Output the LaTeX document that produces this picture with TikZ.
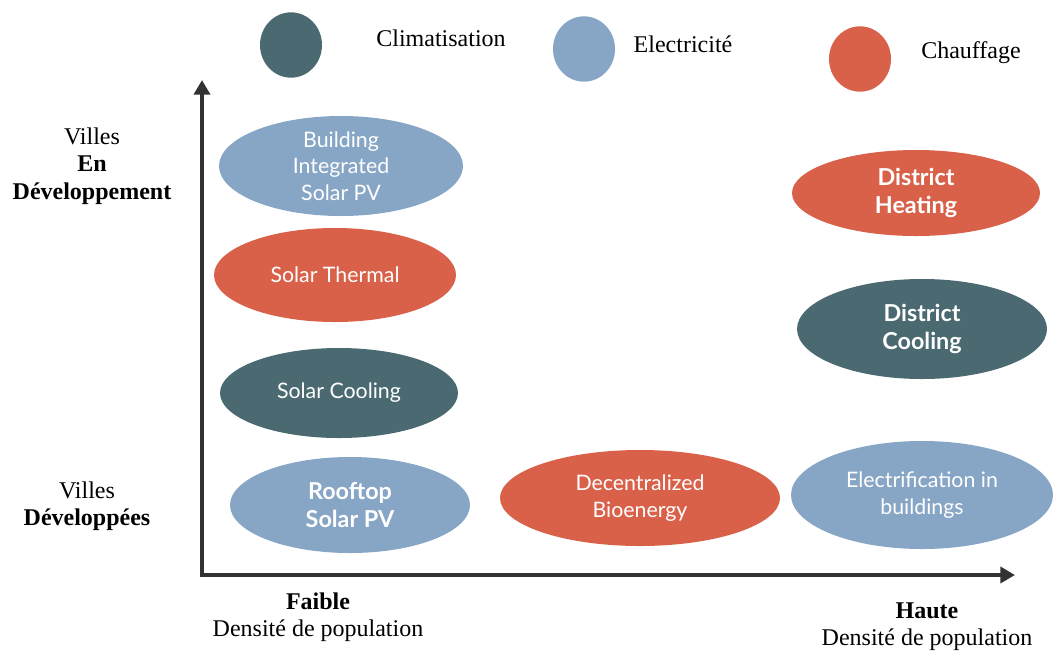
\documentclass[tikz,border=0pt]{standalone}
\usepackage{fontspec}
\setmainfont{Liberation Serif}
\newfontfamily\ellfont{Lato}
\usetikzlibrary{shapes.geometric,arrows.meta}
\definecolor{cteal}{HTML}{4A6971}
\definecolor{cblue}{HTML}{87A6C6}
\definecolor{cred}{HTML}{D9614A}
\begin{document}
\begin{tikzpicture}[x=0.75pt,y=-0.75pt,
  blob/.style={ellipse,inner sep=0pt,draw=none,text=white,align=center,
    font=\ellfont\fontsize{16}{20}\selectfont},
  boldblob/.style={blob,font=\ellfont\bfseries\fontsize{17.5}{20.5}\selectfont},
  legendblob/.style={ellipse,inner sep=0pt,draw=none,minimum width=46.5pt,minimum height=49pt},
  lbl/.style={align=center,font=\fontsize{18}{20.5}\selectfont,text=black},
  axisline/.style={line width=3.6pt,draw=black!80,line join=miter,
    {Triangle[length=11pt,width=12pt]}-{Triangle[length=11pt,width=12pt]}}]
\useasboundingbox (0,0) rectangle (1057,654);
% legend
\node[legendblob,fill=cteal] (lc) at (291,45) {};
\node[legendblob,fill=cblue] (le) at (584,49) {};
\node[legendblob,fill=cred] (lh) at (860,59) {};
\node[lbl] (tc) at (441,38) {Climatisation};
\node[lbl] (te) at (683,44) {Electricité};
\node[lbl] (th) at (971,53) {Chauffage};
% axes
\coordinate (O) at (202,575);
\coordinate (Ytop) at (202,80);
\coordinate (Xend) at (1015,575);
\draw[axisline] (Ytop) -- (O) -- (Xend);
% ellipses
\node[blob,fill=cblue,minimum width=183pt,minimum height=75pt] (bipv) at (341,166) {Building\\Integrated\\Solar PV};
\node[blob,fill=cred,minimum width=181.5pt,minimum height=70.5pt] (st) at (335,275) {Solar Thermal};
\node[blob,fill=cteal,minimum width=178.5pt,minimum height=67.5pt] (sc) at (339,393) {Solar Cooling};
\node[boldblob,fill=cblue,minimum width=180pt,minimum height=72pt] (rpv) at (350,505) {Rooftop\\Solar PV};
\node[blob,fill=cred,minimum width=210pt,minimum height=72pt] (db) at (640,498) {Decentralized\\Bioenergy};
\node[blob,fill=cblue,minimum width=196.5pt,minimum height=81pt] (eb) at (922,495) {Electrification in\\buildings};
\node[boldblob,fill=cred,minimum width=186pt,minimum height=64.5pt] (dh) at (916,193) {District\\Heating};
\node[boldblob,fill=cteal,minimum width=187.5pt,minimum height=75pt] (dc) at (922,329) {District\\Cooling};
% axis labels
\node[lbl] (yhigh) at (92,166) {Villes\\\textbf{En}\\\textbf{Développement}};
\node[lbl] (ylow) at (87,506) {Villes\\\textbf{Développées}};
\node[lbl] (xlow) at (318,617) {\textbf{Faible}\\Densité de population};
\node[lbl] (xhigh) at (927,627) {\textbf{Haute}\\Densité de population};
\end{tikzpicture}
\end{document}
